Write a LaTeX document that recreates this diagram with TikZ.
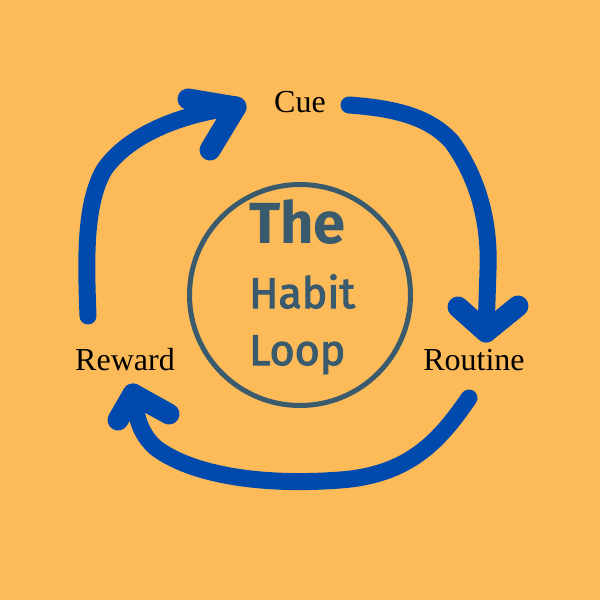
\documentclass[tikz,border=0pt]{standalone}
\usepackage{fontspec}
\setmainfont{Liberation Serif}
\newfontfamily\titlefont{Fira Sans}
\newfontfamily\midfont{Fira Sans}[FakeBold=2.6]
\definecolor{bgorange}{HTML}{FDBA58}
\definecolor{loopblue}{HTML}{004AAD}
\definecolor{slate}{HTML}{3A5B6E}
\tikzset{
  loopstroke/.style={draw=loopblue, line width=17pt, line cap=round, line join=round},
  barb/.style={draw=loopblue, line width=21pt, line cap=round},
  label/.style={font=\fontsize{32}{32}\selectfont, text=black, inner sep=0pt, anchor=base},
  title/.style={text=slate, anchor=base west, inner sep=0pt},
}
\begin{document}
\begin{tikzpicture}[x=1pt,y=-1pt]
\fill[bgorange] (0,0) rectangle (600,600);
\useasboundingbox (0,0) rectangle (600,600);
% central circle
\node[draw=slate, line width=5pt, circle, minimum size=221pt, inner sep=0pt] (loop) at (300,295) {};
\node[title, font=\titlefont\bfseries\fontsize{58}{58}\selectfont] (the) at (249,243) {The};
\node[title, font=\midfont\fontsize{43}{43}\selectfont] (habit) at (249,308) {Habit};
\node[title, font=\midfont\fontsize{43}{43}\selectfont] (loopt) at (249,365) {Loop};
% labels
\node[label] (cue) at (300,112) {Cue};
\node[label] (reward) at (125,370) {Reward};
\node[label] (routine) at (474,370) {Routine};
% arrow coordinates
\coordinate (a1s) at (88,316);
\coordinate (a1t) at (236,107);
\coordinate (a2s) at (349,105);
\coordinate (a2t) at (486,332);
\coordinate (a3s) at (469,398);
\coordinate (a3t) at (133,394);
% Reward -> Cue
\draw[loopstroke] (a1s) .. controls (86,262) and (84,205) .. (104,170)
  .. controls (128,135) and (180,114) .. (a1t);
\draw[barb] (a1t) -- (188,99);
\draw[barb] (a1t) -- (210,150);
% Cue -> Routine
\draw[loopstroke] (a2s) .. controls (390,108) and (428,115) .. (452,142)
  .. controls (478,178) and (490,222) .. (488,270) -- (a2t);
\draw[barb] (a2t) -- (458,307);
\draw[barb] (a2t) -- (518,306);
% Routine -> Reward
\draw[loopstroke] (a3s) .. controls (440,440) and (410,475) .. (340,480)
  .. controls (262,486) and (192,475) .. (156,448)
  .. controls (139,433) and (136,415) .. (a3t);
\draw[barb] (a3t) -- (118,420);
\draw[barb] (a3t) -- (169,414);
\end{tikzpicture}
\end{document}
